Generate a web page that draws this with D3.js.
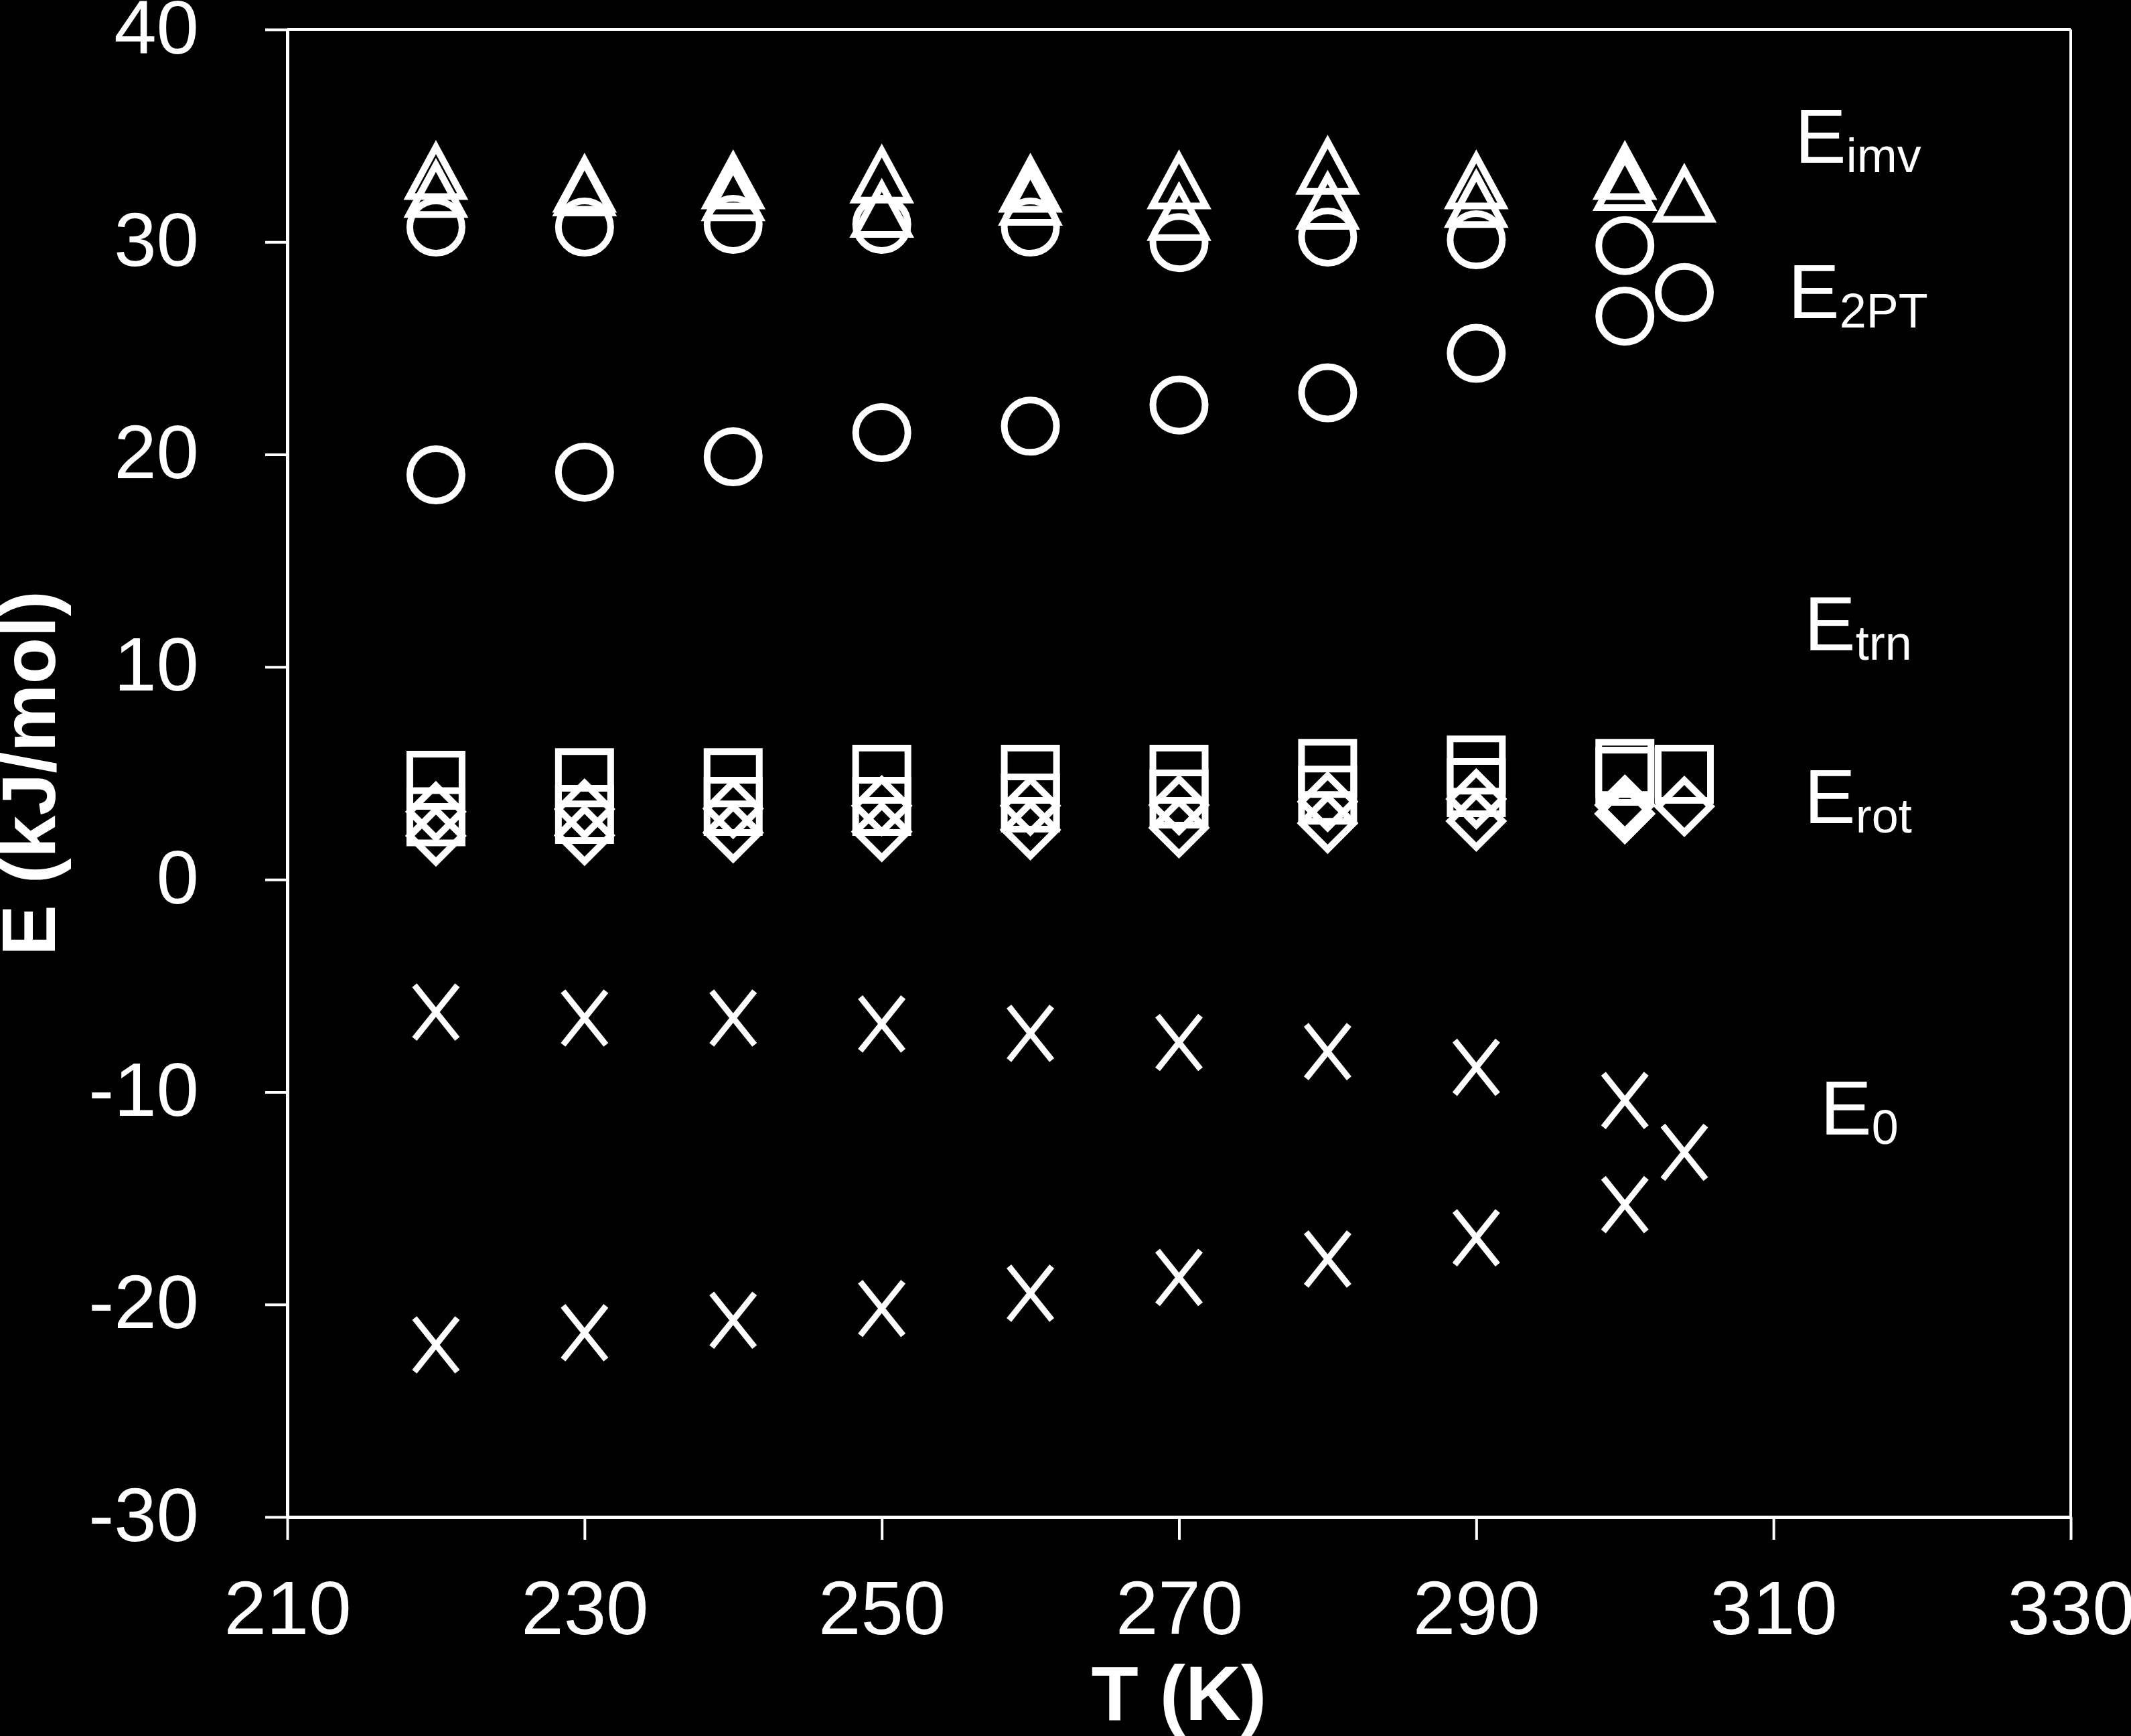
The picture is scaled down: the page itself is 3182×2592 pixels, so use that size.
<!DOCTYPE html>
<html>
<head>
<meta charset="utf-8">
<script src="https://cdn.jsdelivr.net/npm/d3@7"></script>
<style>
  html, body { margin: 0; padding: 0; background: #000; }
  svg { display: block; }
</style>
</head>
<body>
<svg id="chart" width="3182" height="2592"></svg>
<script>
// ---------------- data ----------------
const temps = [220, 230, 240, 250, 260, 270, 280, 290, 300];
const tEnd = 304;

const eimvA = [33.30, 32.70, 32.86, 33.14, 32.70, 32.86, 33.55, 32.86, 33.30];
const eimvB = [32.46, 32.53, 32.30, 31.52, 32.09, 31.37, 31.90, 31.99, 32.78];
const eimvEnd = 32.23;

const e2ptA = [30.70, 30.70, 30.83, 30.83, 30.70, 29.97, 30.23, 30.10, 29.83];
const e2ptB = [19.04, 19.17, 19.89, 21.03, 21.33, 22.33, 22.90, 24.76, 26.51];
const e2ptEnd = 27.62;

const etrnA = [4.67, 4.79, 4.79, 4.95, 4.95, 4.95, 5.23, 5.39, 5.23];
const etrnB = [2.95, 3.06, 3.44, 3.44, 3.60, 3.79, 3.97, 4.32, 4.86];
const etrnEnd = 4.95;

const erotA = [3.19, 3.31, 3.34, 3.47, 3.47, 3.50, 3.66, 3.79, 3.50];
const erotB = [2.05, 2.08, 2.20, 2.25, 2.34, 2.43, 2.65, 2.75, 3.09];
const erotEnd = 3.44;

const e0A = [-6.24, -6.52, -6.52, -6.80, -7.24, -7.67, -8.10, -8.84, -10.40];
const e0B = [-21.90, -21.33, -20.74, -20.19, -19.47, -18.73, -17.86, -16.86, -15.30];
const e0End = -12.84;

const xTicks = [210, 230, 250, 270, 290, 310, 330];
const yTicks = [-30, -20, -10, 0, 10, 20, 30, 40];

const labels = [
  { main: "E", sub: "imv", y: 33.3 },
  { main: "E", sub: "2PT", y: 26.0 },
  { main: "E", sub: "trn", y: 10.6 },
  { main: "E", sub: "rot", y: 2.5 },
  { main: "E", sub: "0", y: -12.2 }
];

// ---------------- layout ----------------
const svg = d3.select("#chart");
const L = 429, R = 3092, TOP = 44, BOT = 2265;
const x = d3.scaleLinear().domain([210, 330]).range([L, R]);
const y = d3.scaleLinear().domain([-30, 40]).range([BOT, TOP]);

svg.append("rect").attr("width", 3182).attr("height", 2592).attr("fill", "#000");

const FONT = "'Liberation Sans', Arial, Helvetica, sans-serif";

// frame (top/right)
svg.append("line").attr("x1", L).attr("x2", R).attr("y1", TOP).attr("y2", TOP)
  .attr("stroke", "#fff").attr("stroke-width", 4);
svg.append("line").attr("x1", R).attr("x2", R).attr("y1", TOP).attr("y2", BOT)
  .attr("stroke", "#fff").attr("stroke-width", 4);

// axes
const xAxis = d3.axisBottom(x).tickValues(xTicks).tickSize(34).tickSizeOuter(0).tickFormat(d3.format("d"));
const gx = svg.append("g").attr("transform", `translate(0,${BOT})`).call(xAxis);
const yAxis = d3.axisLeft(y).tickValues(yTicks).tickSize(33).tickSizeOuter(0).tickFormat(d3.format("d"));
const gy = svg.append("g").attr("transform", `translate(${L},0)`).call(yAxis);

[gx, gy].forEach(g => {
  g.select(".domain").attr("stroke", "#fff").attr("stroke-width", 5);
  g.selectAll(".tick line").attr("stroke", "#fff").attr("stroke-width", 4);
  g.selectAll(".tick text").attr("fill", "#fff").attr("font-family", FONT)
    .attr("font-size", 114);
});
gx.selectAll(".tick text").attr("y", 175).attr("dy", null);
gy.selectAll(".tick text").attr("x", -132).attr("dy", null).attr("y", 35)
  .attr("text-anchor", "end")
  .text(d => d < 0 ? "-" + Math.abs(d) : String(d));

// axis titles
svg.append("text").attr("x", (L + R) / 2).attr("y", 2568)
  .attr("text-anchor", "middle").attr("fill", "#fff")
  .attr("font-family", FONT).attr("font-weight", "bold").attr("font-size", 115)
  .text("T (K)");
svg.append("text").attr("transform", `translate(82,${(TOP + BOT) / 2}) rotate(-90)`)
  .attr("text-anchor", "middle").attr("fill", "#fff")
  .attr("font-family", FONT).attr("font-weight", "bold").attr("font-size", 114)
  .text("E (kJ/mol)");

// ---------------- markers ----------------
function shapePath(type) {
  const p = d3.path();
  if (type === "circle") {
    p.moveTo(39, 0); p.arc(0, 0, 39, 0, 2 * Math.PI);
  } else if (type === "square") {
    p.rect(-39, -39, 78, 78);
  } else if (type === "triangle") {
    p.moveTo(0, -37); p.lineTo(40, 37); p.lineTo(-40, 37); p.closePath();
  } else if (type === "diamond") {
    p.moveTo(0, -39); p.lineTo(39, 0); p.lineTo(0, 39); p.lineTo(-39, 0); p.closePath();
  } else if (type === "cross") {
    p.moveTo(-32, -40); p.lineTo(32, 40);
    p.moveTo(32, -40); p.lineTo(-32, 40);
  }
  return p.toString();
}

function pts(vals, end) {
  const a = temps.map((t, i) => ({ t, v: vals[i] }));
  if (end !== undefined) a.push({ t: tEnd, v: end });
  return a;
}

const series = [
  { shape: "cross", data: pts(e0A) },
  { shape: "cross", data: pts(e0B, e0End) },
  { shape: "diamond", data: pts(erotA) },
  { shape: "diamond", data: pts(erotB, erotEnd) },
  { shape: "square", data: pts(etrnA) },
  { shape: "square", data: pts(etrnB, etrnEnd) },
  { shape: "circle", data: pts(e2ptA) },
  { shape: "circle", data: pts(e2ptB, e2ptEnd) },
  { shape: "triangle", data: pts(eimvA) },
  { shape: "triangle", data: pts(eimvB, eimvEnd) }
];

const gm = svg.append("g");
series.forEach(s => {
  gm.append("g").selectAll("path").data(s.data).join("path")
    .attr("d", shapePath(s.shape))
    .attr("transform", d => `translate(${x(d.t)},${y(d.v)})`)
    .attr("fill", "none").attr("stroke", "#fff")
    .attr("stroke-width", s.shape === "cross" ? 9 : 10)
    .attr("stroke-linejoin", "miter").attr("stroke-miterlimit", 10);
});

// ---------------- series labels ----------------
const labelPos = [
  { x: 2680, base: 243 },
  { x: 2670, base: 475 },
  { x: 2694, base: 971 },
  { x: 2694, base: 1229 },
  { x: 2718, base: 1694 }
];
labels.forEach((lb, i) => {
  const t = svg.append("text").attr("x", labelPos[i].x).attr("y", labelPos[i].base)
    .attr("fill", "#fff").attr("font-family", FONT).attr("font-size", 115);
  t.append("tspan").text(lb.main);
  t.append("tspan").attr("font-size", 72).attr("dy", 14).text(lb.sub);
});
</script>
</body>
</html>
